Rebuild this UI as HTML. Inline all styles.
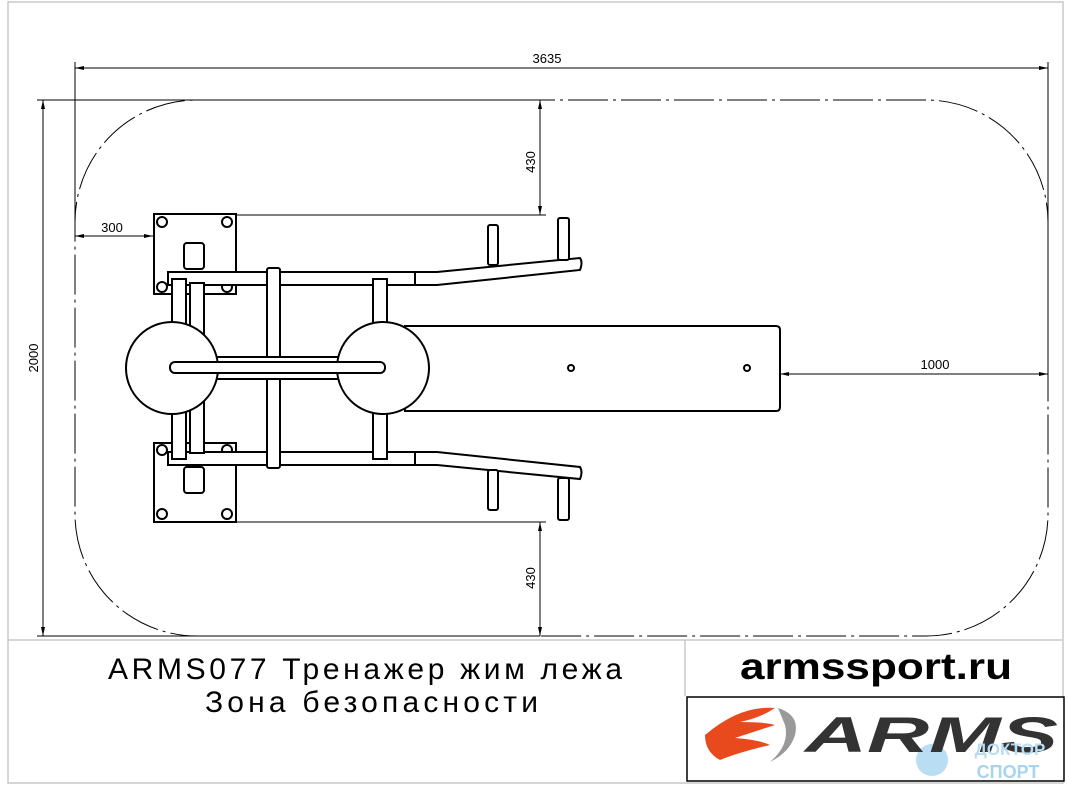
<!DOCTYPE html>
<html><head><meta charset="utf-8"><style>
html,body{margin:0;padding:0;background:#fff;width:1069px;height:786px;overflow:hidden}
svg{display:block}
text{font-family:"Liberation Sans","DejaVu Sans",sans-serif}
</style></head><body>
<svg width="1069" height="786" viewBox="0 0 1069 786" xmlns="http://www.w3.org/2000/svg">
<rect x="0" y="0" width="1069" height="786" fill="#fff"/>
<rect x="8" y="2" width="1055" height="781" fill="none" stroke="#c8c8c8" stroke-width="1.5"/>
<line x1="8" y1="640" x2="1063" y2="640" stroke="#c8c8c8" stroke-width="1.5"/>
<line x1="685" y1="640" x2="685" y2="696" stroke="#c8c8c8" stroke-width="1.5"/>

<rect x="75" y="100" width="973" height="536" rx="122" ry="122" fill="none" stroke="#000" stroke-width="1" stroke-dasharray="40,5,3,5"/>

<g stroke="#000" stroke-width="1" fill="none">
<line x1="75" y1="62" x2="75" y2="236"/>
<line x1="1048" y1="62" x2="1048" y2="380"/>
<line x1="75" y1="68" x2="1048" y2="68"/>
<line x1="37" y1="100" x2="540" y2="100"/>
<line x1="37" y1="636" x2="540" y2="636"/>
<line x1="43" y1="100" x2="43" y2="636"/>
<line x1="540" y1="100" x2="540" y2="215"/>
<line x1="236" y1="215" x2="546" y2="215"/>
<line x1="540" y1="522" x2="540" y2="636"/>
<line x1="236" y1="522" x2="546" y2="522"/>
<line x1="75" y1="236" x2="153" y2="236"/>
<line x1="780" y1="374" x2="1048" y2="374"/>
</g>
<g fill="#000">
<path d="M75 68 l9 -2 v4z M1048 68 l-9 -2 v4z M43 100 l-2 9 h4z M43 636 l-2 -9 h4z M540 100 l-2 9 h4z M540 215 l-2 -9 h4z M540 522 l-2 9 h4z M540 636 l-2 -9 h4z M75 236 l9 -2 v4z M153 236 l-9 -2 v4z M780 374 l9 -2 v4z M1048 374 l-9 -2 v4z"/>
</g>
<g font-size="13" fill="#000">
<text x="547" y="63" text-anchor="middle">3635</text>
<text x="112" y="232" text-anchor="middle">300</text>
<text x="935" y="369" text-anchor="middle">1000</text>
<text transform="translate(38,358) rotate(-90)" text-anchor="middle">2000</text>
<text transform="translate(535,162) rotate(-90)" text-anchor="middle">430</text>
<text transform="translate(535,578) rotate(-90)" text-anchor="middle">430</text>
</g>

<g stroke="#000" stroke-width="2" fill="#fff">
<rect x="154" y="214" width="82" height="80"/>
<rect x="154" y="443" width="82" height="79"/>
<circle cx="162" cy="222" r="5"/><circle cx="227" cy="222" r="5"/><circle cx="162" cy="287" r="5"/><circle cx="227" cy="287" r="5"/>
<circle cx="162" cy="450" r="5"/><circle cx="227" cy="450" r="5"/><circle cx="162" cy="514" r="5"/><circle cx="227" cy="514" r="5"/>
<rect x="184" y="243" width="20" height="26" rx="3"/>
<rect x="184" y="467" width="20" height="26" rx="3"/>
<path d="M405 326 H776 Q780 326 780 330 V407 Q780 411 776 411 H405 Z"/>
<path d="M168 272 H437 L580 258 Q583 262 580 270 L437 285 H168 Z"/>
<path d="M168 452 H437 L580 467 Q583 472 580 479 L437 465 H168 Z"/>
<line x1="415" y1="272" x2="415" y2="285"/><line x1="415" y1="452" x2="415" y2="465"/>
<rect x="488" y="225" width="10" height="40" rx="2"/>
<rect x="558" y="218" width="11" height="42" rx="2"/>
<rect x="488" y="470" width="10" height="40" rx="2"/>
<rect x="558" y="478" width="11" height="42" rx="2"/>
<rect x="267" y="268" width="13" height="200" rx="2"/>
<rect x="190" y="283" width="14" height="170"/>
<rect x="172" y="279" width="14" height="180"/>
<rect x="373" y="279" width="14" height="180"/>
<rect x="210" y="357" width="130" height="22"/>
<circle cx="172" cy="368" r="46"/>
<circle cx="383" cy="368" r="46"/>
<rect x="170" y="362" width="215" height="11" rx="5"/>
<circle cx="571" cy="368" r="3"/>
<circle cx="747" cy="368" r="3"/>
</g>

<g font-size="30" fill="#000">
<text x="108" y="679" textLength="514" lengthAdjust="spacing">ARMS077 Тренажер жим лежа</text>
<text x="205" y="712" textLength="333" lengthAdjust="spacing">Зона безопасности</text>
</g>
<text x="740" y="679" font-size="37" font-weight="bold" fill="#000" textLength="272" lengthAdjust="spacingAndGlyphs">armssport.ru</text>

<rect x="687" y="697" width="377" height="84" fill="#fff" stroke="#000" stroke-width="1.5"/>
<path d="M705 735 Q740 705 775 708 Q760 718 740 722 Q765 722 775 725 Q750 733 735 738 Q760 740 770 745 Q740 752 720 760 Q705 752 705 735Z" fill="#e84a1e"/>
<path d="M778 708 Q800 715 795 735 Q790 752 770 762 Q790 745 785 725Z" fill="#999"/>
<circle cx="932" cy="760" r="16" fill="#a8d4f0" opacity="0.8"/>
<text x="805" y="752" font-size="50" font-weight="bold" font-style="italic" fill="#333" textLength="253" lengthAdjust="spacingAndGlyphs">ARMS</text>
<text x="1010" y="755" font-size="17" font-weight="bold" fill="#b8dcf4" text-anchor="middle">ДОКТОР</text>
<text x="1008" y="778" font-size="18" font-weight="bold" fill="#a8d4f0" text-anchor="middle">СПОРТ</text>
</svg>
</body></html>
